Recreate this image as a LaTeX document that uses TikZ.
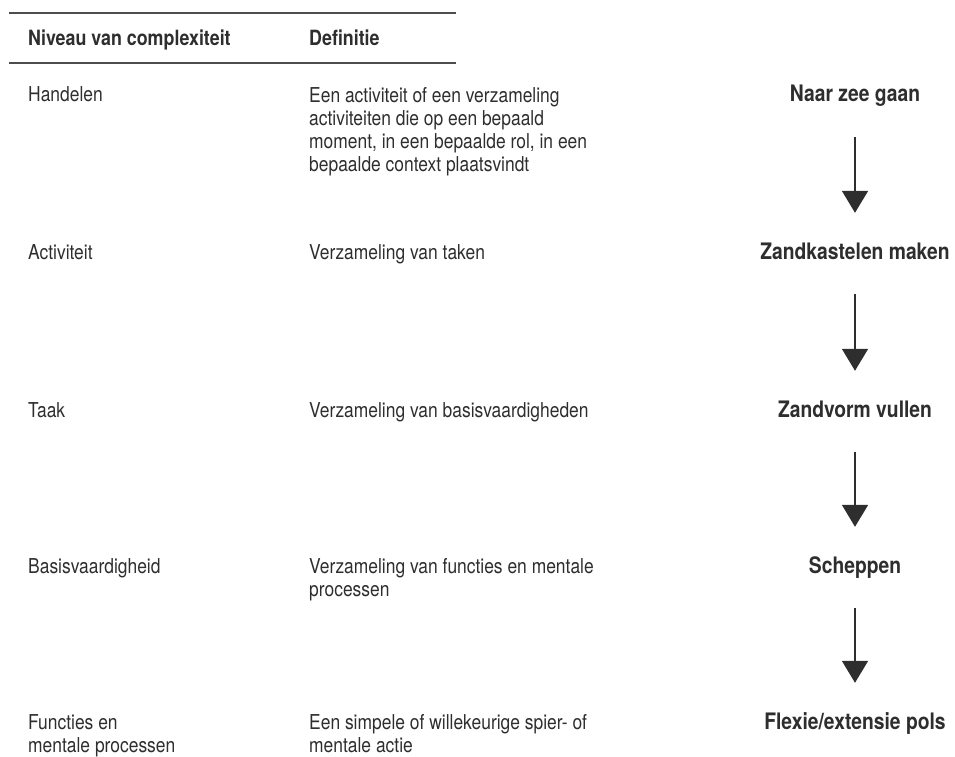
\documentclass[tikz,border=0pt]{standalone}
\usepackage{fontspec}
\setmainfont{TeX Gyre Heros}[FakeStretch=0.85]
\usetikzlibrary{arrows.meta}
\definecolor{inkgray}{HTML}{2E2E2E}
\definecolor{rulegray}{HTML}{4D4D4D}
\tikzset{
  cell/.style={anchor=base west, inner sep=0pt, align=left, text=inkgray,
    font=\fontsize{20.5}{23}\selectfont},
  head/.style={cell, font=\fontsize{21}{23}\selectfont\bfseries},
  levelbox/.style={anchor=base, inner sep=0pt, text=inkgray, text height=16pt,
    text depth=5pt, font=\fontsize{22.7}{26}\selectfont\bfseries},
  downarrow/.style={-{Triangle[width=26pt,length=22pt]}, line width=1.8pt,
    draw=inkgray, shorten <=30pt, shorten >=30pt},
  tablerule/.style={draw=rulegray, line width=1.3pt}
}
\begin{document}
\begin{tikzpicture}[x=1pt,y=-1pt]
\useasboundingbox (0,0) rectangle (955,757);
\draw[tablerule] (9,13)--(456,13);
\draw[tablerule] (9,63)--(456,63);
\node[head] (hlevel) at (28,46) {Niveau van complexiteit};
\node[head] (hdef) at (309,46) {Definitie};
% niveaus (base = last line)
\node[cell] (l1) at (28,102) {Handelen};
\node[cell] (l2) at (28,259) {Activiteit};
\node[cell] (l3) at (28,417) {Taak};
\node[cell] (l4) at (28,573) {Basisvaardigheid};
\node[cell] (l5) at (28,752) {Functies en\\mentale processen};
% definities
\node[cell] (d1) at (309,171) {Een activiteit of een verzameling\\activiteiten die op een bepaald\\moment, in een bepaalde rol, in een\\bepaalde context plaatsvindt};
\node[cell] (d2) at (309,259) {Verzameling van taken};
\node[cell] (d3) at (309,417) {Verzameling van basisvaardigheden};
\node[cell] (d4) at (309,596) {Verzameling van functies en mentale\\processen};
\node[cell] (d5) at (309,752) {Een simpele of willekeurige spier- of\\mentale actie};
% voorbeeld
\node[levelbox] (e1) at (855,102) {Naar zee gaan};
\node[levelbox] (e2) at (855,259) {Zandkastelen maken};
\node[levelbox] (e3) at (855,417) {Zandvorm vullen};
\node[levelbox] (e4) at (855,573) {Scheppen};
\node[levelbox] (e5) at (855,729) {Flexie/extensie pols};
\foreach \a/\b in {e1/e2,e2/e3,e3/e4,e4/e5}
  \draw[downarrow] (\a) -- (\b);
\end{tikzpicture}
\end{document}
